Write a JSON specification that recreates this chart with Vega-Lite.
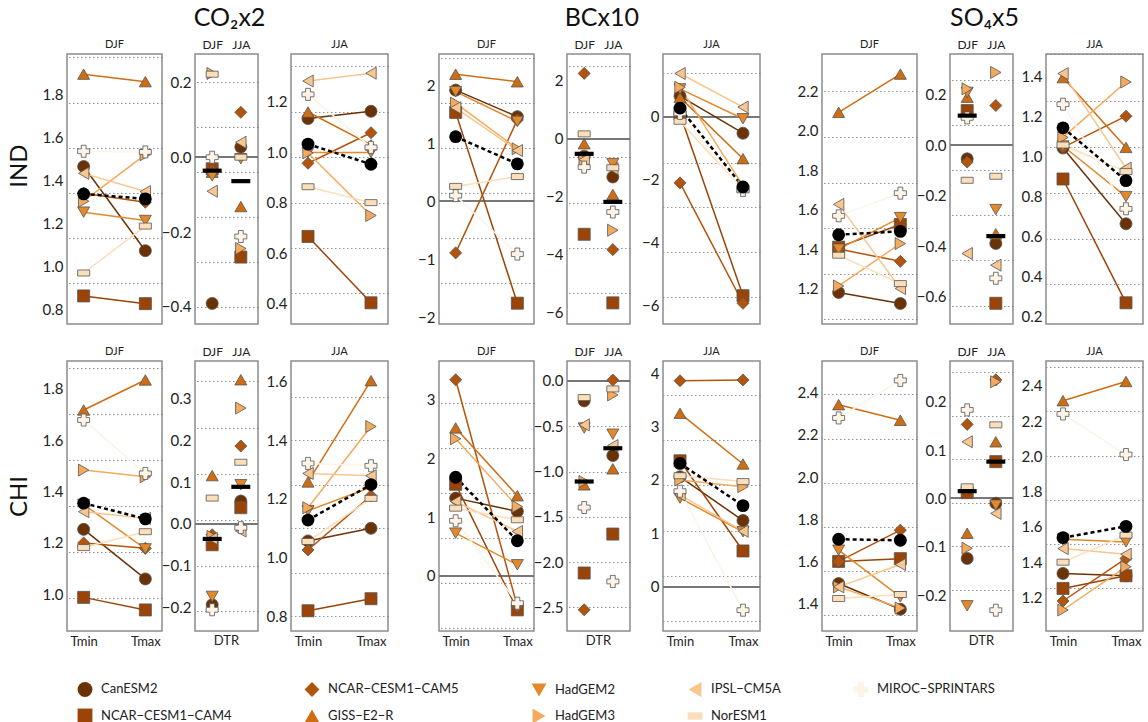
{
"$schema":"https://vega.github.io/schema/vega-lite/v6.json",
"padding":{"left":8,"top":6,"right":0,"bottom":0},
"data":{"values":[
{"e":"CO2","r":"IND","p":"DJF","m":"CanESM2","Tmin":1.465,"Tmax":1.072},
{"e":"CO2","r":"IND","p":"DJF","m":"NCAR−CESM1−CAM4","Tmin":0.861,"Tmax":0.825},
{"e":"CO2","r":"IND","p":"DJF","m":"NCAR−CESM1−CAM5","Tmin":1.34,"Tmax":1.298},
{"e":"CO2","r":"IND","p":"DJF","m":"GISS−E2−R","Tmin":1.896,"Tmax":1.861},
{"e":"CO2","r":"IND","p":"DJF","m":"HadGEM2","Tmin":1.252,"Tmax":1.213},
{"e":"CO2","r":"IND","p":"DJF","m":"HadGEM3","Tmin":1.303,"Tmax":1.52},
{"e":"CO2","r":"IND","p":"DJF","m":"IPSL−CM5A","Tmin":1.433,"Tmax":1.348},
{"e":"CO2","r":"IND","p":"DJF","m":"NorESM1","Tmin":0.968,"Tmax":1.187},
{"e":"CO2","r":"IND","p":"DJF","m":"MIROC−SPRINTARS","Tmin":1.536,"Tmax":1.533},
{"e":"CO2","r":"IND","p":"DJF","m":"Mean","Tmin":1.337,"Tmax":1.314},
{"e":"CO2","r":"IND","p":"DTR","m":"CanESM2","DJF":-0.391,"JJA":0.027},
{"e":"CO2","r":"IND","p":"DTR","m":"NCAR−CESM1−CAM4","DJF":-0.031,"JJA":-0.267},
{"e":"CO2","r":"IND","p":"DTR","m":"NCAR−CESM1−CAM5","DJF":-0.035,"JJA":0.12},
{"e":"CO2","r":"IND","p":"DTR","m":"GISS−E2−R","DJF":-0.04,"JJA":-0.132},
{"e":"CO2","r":"IND","p":"DTR","m":"HadGEM2","DJF":-0.05,"JJA":-0.004},
{"e":"CO2","r":"IND","p":"DTR","m":"HadGEM3","DJF":0.224,"JJA":-0.244},
{"e":"CO2","r":"IND","p":"DTR","m":"IPSL−CM5A","DJF":-0.091,"JJA":0.04},
{"e":"CO2","r":"IND","p":"DTR","m":"NorESM1","DJF":0.222,"JJA":0.0},
{"e":"CO2","r":"IND","p":"DTR","m":"MIROC−SPRINTARS","DJF":0.0,"JJA":-0.212},
{"e":"CO2","r":"IND","p":"DTR","m":"Mean","DJF":-0.036,"JJA":-0.064},
{"e":"CO2","r":"IND","p":"JJA","m":"CanESM2","Tmin":1.134,"Tmax":1.163},
{"e":"CO2","r":"IND","p":"JJA","m":"NCAR−CESM1−CAM4","Tmin":0.667,"Tmax":0.404},
{"e":"CO2","r":"IND","p":"JJA","m":"NCAR−CESM1−CAM5","Tmin":0.957,"Tmax":1.078},
{"e":"CO2","r":"IND","p":"JJA","m":"GISS−E2−R","Tmin":1.16,"Tmax":1.03},
{"e":"CO2","r":"IND","p":"JJA","m":"HadGEM2","Tmin":1.0,"Tmax":1.0},
{"e":"CO2","r":"IND","p":"JJA","m":"HadGEM3","Tmin":0.998,"Tmax":0.75},
{"e":"CO2","r":"IND","p":"JJA","m":"IPSL−CM5A","Tmin":1.283,"Tmax":1.314},
{"e":"CO2","r":"IND","p":"JJA","m":"NorESM1","Tmin":0.864,"Tmax":0.801},
{"e":"CO2","r":"IND","p":"JJA","m":"MIROC−SPRINTARS","Tmin":1.23,"Tmax":1.02},
{"e":"CO2","r":"IND","p":"JJA","m":"Mean","Tmin":1.033,"Tmax":0.953},
{"e":"BC","r":"IND","p":"DJF","m":"CanESM2","Tmin":1.925,"Tmax":1.466},
{"e":"BC","r":"IND","p":"DJF","m":"NCAR−CESM1−CAM4","Tmin":1.54,"Tmax":-1.76},
{"e":"BC","r":"IND","p":"DJF","m":"NCAR−CESM1−CAM5","Tmin":-0.89,"Tmax":1.41},
{"e":"BC","r":"IND","p":"DJF","m":"GISS−E2−R","Tmin":2.2,"Tmax":2.07},
{"e":"BC","r":"IND","p":"DJF","m":"HadGEM2","Tmin":1.9,"Tmax":1.385},
{"e":"BC","r":"IND","p":"DJF","m":"HadGEM3","Tmin":1.7,"Tmax":0.91},
{"e":"BC","r":"IND","p":"DJF","m":"IPSL−CM5A","Tmin":1.62,"Tmax":0.88},
{"e":"BC","r":"IND","p":"DJF","m":"NorESM1","Tmin":0.26,"Tmax":0.43},
{"e":"BC","r":"IND","p":"DJF","m":"MIROC−SPRINTARS","Tmin":0.1,"Tmax":-0.91},
{"e":"BC","r":"IND","p":"DJF","m":"Mean","Tmin":1.12,"Tmax":0.65},
{"e":"BC","r":"IND","p":"DTR","m":"CanESM2","DJF":-0.6,"JJA":-1.32},
{"e":"BC","r":"IND","p":"DTR","m":"NCAR−CESM1−CAM4","DJF":-3.3,"JJA":-5.67},
{"e":"BC","r":"IND","p":"DTR","m":"NCAR−CESM1−CAM5","DJF":2.26,"JJA":-3.83},
{"e":"BC","r":"IND","p":"DTR","m":"GISS−E2−R","DJF":-0.17,"JJA":-1.92},
{"e":"BC","r":"IND","p":"DTR","m":"HadGEM2","DJF":-0.7,"JJA":-0.86},
{"e":"BC","r":"IND","p":"DTR","m":"HadGEM3","DJF":-0.75,"JJA":-3.16},
{"e":"BC","r":"IND","p":"DTR","m":"IPSL−CM5A","DJF":-0.72,"JJA":-1.03},
{"e":"BC","r":"IND","p":"DTR","m":"NorESM1","DJF":0.17,"JJA":-1.0},
{"e":"BC","r":"IND","p":"DTR","m":"MIROC−SPRINTARS","DJF":-0.98,"JJA":-2.53},
{"e":"BC","r":"IND","p":"DTR","m":"Mean","DJF":-0.52,"JJA":-2.18},
{"e":"BC","r":"IND","p":"JJA","m":"CanESM2","Tmin":0.65,"Tmax":-0.53},
{"e":"BC","r":"IND","p":"JJA","m":"NCAR−CESM1−CAM4","Tmin":0.08,"Tmax":-5.7},
{"e":"BC","r":"IND","p":"JJA","m":"NCAR−CESM1−CAM5","Tmin":-2.11,"Tmax":-5.94},
{"e":"BC","r":"IND","p":"JJA","m":"GISS−E2−R","Tmin":0.61,"Tmax":-1.34},
{"e":"BC","r":"IND","p":"JJA","m":"HadGEM2","Tmin":0.88,"Tmax":-0.07},
{"e":"BC","r":"IND","p":"JJA","m":"HadGEM3","Tmin":0.93,"Tmax":-2.2},
{"e":"BC","r":"IND","p":"JJA","m":"IPSL−CM5A","Tmin":1.37,"Tmax":0.3},
{"e":"BC","r":"IND","p":"JJA","m":"NorESM1","Tmin":-0.15,"Tmax":-2.32},
{"e":"BC","r":"IND","p":"JJA","m":"MIROC−SPRINTARS","Tmin":0.1,"Tmax":-2.35},
{"e":"BC","r":"IND","p":"JJA","m":"Mean","Tmin":0.27,"Tmax":-2.24},
{"e":"SO4","r":"IND","p":"DJF","m":"CanESM2","Tmin":1.18,"Tmax":1.124},
{"e":"SO4","r":"IND","p":"DJF","m":"NCAR−CESM1−CAM4","Tmin":1.41,"Tmax":1.525},
{"e":"SO4","r":"IND","p":"DJF","m":"NCAR−CESM1−CAM5","Tmin":1.4,"Tmax":1.338},
{"e":"SO4","r":"IND","p":"DJF","m":"GISS−E2−R","Tmin":2.094,"Tmax":2.288},
{"e":"SO4","r":"IND","p":"DJF","m":"HadGEM2","Tmin":1.4,"Tmax":1.56},
{"e":"SO4","r":"IND","p":"DJF","m":"HadGEM3","Tmin":1.213,"Tmax":1.428},
{"e":"SO4","r":"IND","p":"DJF","m":"IPSL−CM5A","Tmin":1.627,"Tmax":1.2},
{"e":"SO4","r":"IND","p":"DJF","m":"NorESM1","Tmin":1.369,"Tmax":1.225},
{"e":"SO4","r":"IND","p":"DJF","m":"MIROC−SPRINTARS","Tmin":1.569,"Tmax":1.684},
{"e":"SO4","r":"IND","p":"DJF","m":"Mean","Tmin":1.473,"Tmax":1.49},
{"e":"SO4","r":"IND","p":"DTR","m":"CanESM2","DJF":-0.053,"JJA":-0.388},
{"e":"SO4","r":"IND","p":"DTR","m":"NCAR−CESM1−CAM4","DJF":0.138,"JJA":-0.625},
{"e":"SO4","r":"IND","p":"DTR","m":"NCAR−CESM1−CAM5","DJF":-0.066,"JJA":0.158},
{"e":"SO4","r":"IND","p":"DTR","m":"GISS−E2−R","DJF":0.191,"JJA":-0.35},
{"e":"SO4","r":"IND","p":"DTR","m":"HadGEM2","DJF":0.21,"JJA":-0.254},
{"e":"SO4","r":"IND","p":"DTR","m":"HadGEM3","DJF":0.224,"JJA":0.289},
{"e":"SO4","r":"IND","p":"DTR","m":"IPSL−CM5A","DJF":-0.428,"JJA":-0.474},
{"e":"SO4","r":"IND","p":"DTR","m":"NorESM1","DJF":-0.138,"JJA":-0.122},
{"e":"SO4","r":"IND","p":"DTR","m":"MIROC−SPRINTARS","DJF":0.109,"JJA":-0.526},
{"e":"SO4","r":"IND","p":"DTR","m":"Mean","DJF":0.118,"JJA":-0.359},
{"e":"SO4","r":"IND","p":"JJA","m":"CanESM2","Tmin":1.04,"Tmax":0.661},
{"e":"SO4","r":"IND","p":"JJA","m":"NCAR−CESM1−CAM4","Tmin":0.885,"Tmax":0.266},
{"e":"SO4","r":"IND","p":"JJA","m":"NCAR−CESM1−CAM5","Tmin":1.043,"Tmax":1.199},
{"e":"SO4","r":"IND","p":"JJA","m":"GISS−E2−R","Tmin":1.392,"Tmax":1.043},
{"e":"SO4","r":"IND","p":"JJA","m":"HadGEM2","Tmin":1.05,"Tmax":0.797},
{"e":"SO4","r":"IND","p":"JJA","m":"HadGEM3","Tmin":1.093,"Tmax":1.37},
{"e":"SO4","r":"IND","p":"JJA","m":"IPSL−CM5A","Tmin":1.412,"Tmax":0.939},
{"e":"SO4","r":"IND","p":"JJA","m":"NorESM1","Tmin":1.055,"Tmax":0.922},
{"e":"SO4","r":"IND","p":"JJA","m":"MIROC−SPRINTARS","Tmin":1.259,"Tmax":0.736},
{"e":"SO4","r":"IND","p":"JJA","m":"Mean","Tmin":1.141,"Tmax":0.877},
{"e":"CO2","r":"CHI","p":"DJF","m":"CanESM2","Tmin":1.253,"Tmax":1.06},
{"e":"CO2","r":"CHI","p":"DJF","m":"NCAR−CESM1−CAM4","Tmin":0.988,"Tmax":0.939},
{"e":"CO2","r":"CHI","p":"DJF","m":"NCAR−CESM1−CAM5","Tmin":1.2,"Tmax":1.179},
{"e":"CO2","r":"CHI","p":"DJF","m":"GISS−E2−R","Tmin":1.718,"Tmax":1.835},
{"e":"CO2","r":"CHI","p":"DJF","m":"HadGEM2","Tmin":1.35,"Tmax":1.177},
{"e":"CO2","r":"CHI","p":"DJF","m":"HadGEM3","Tmin":1.484,"Tmax":1.458},
{"e":"CO2","r":"CHI","p":"DJF","m":"IPSL−CM5A","Tmin":1.322,"Tmax":1.296},
{"e":"CO2","r":"CHI","p":"DJF","m":"NorESM1","Tmin":1.182,"Tmax":1.244},
{"e":"CO2","r":"CHI","p":"DJF","m":"MIROC−SPRINTARS","Tmin":1.679,"Tmax":1.471},
{"e":"CO2","r":"CHI","p":"DJF","m":"Mean","Tmin":1.355,"Tmax":1.294},
{"e":"CO2","r":"CHI","p":"DTR","m":"CanESM2","DJF":-0.194,"JJA":0.055},
{"e":"CO2","r":"CHI","p":"DTR","m":"NCAR−CESM1−CAM4","DJF":-0.05,"JJA":0.039},
{"e":"CO2","r":"CHI","p":"DTR","m":"NCAR−CESM1−CAM5","DJF":-0.026,"JJA":0.187},
{"e":"CO2","r":"CHI","p":"DTR","m":"GISS−E2−R","DJF":0.116,"JJA":0.346},
{"e":"CO2","r":"CHI","p":"DTR","m":"HadGEM2","DJF":-0.174,"JJA":0.094},
{"e":"CO2","r":"CHI","p":"DTR","m":"HadGEM3","DJF":-0.03,"JJA":0.278},
{"e":"CO2","r":"CHI","p":"DTR","m":"IPSL−CM5A","DJF":-0.035,"JJA":-0.017},
{"e":"CO2","r":"CHI","p":"DTR","m":"NorESM1","DJF":0.062,"JJA":0.148},
{"e":"CO2","r":"CHI","p":"DTR","m":"MIROC−SPRINTARS","DJF":-0.206,"JJA":-0.009},
{"e":"CO2","r":"CHI","p":"DTR","m":"Mean","DJF":-0.036,"JJA":0.089},
{"e":"CO2","r":"CHI","p":"JJA","m":"CanESM2","Tmin":1.057,"Tmax":1.1},
{"e":"CO2","r":"CHI","p":"JJA","m":"NCAR−CESM1−CAM4","Tmin":0.819,"Tmax":0.86},
{"e":"CO2","r":"CHI","p":"JJA","m":"NCAR−CESM1−CAM5","Tmin":1.026,"Tmax":1.211},
{"e":"CO2","r":"CHI","p":"JJA","m":"GISS−E2−R","Tmin":1.258,"Tmax":1.603},
{"e":"CO2","r":"CHI","p":"JJA","m":"HadGEM2","Tmin":1.16,"Tmax":1.24},
{"e":"CO2","r":"CHI","p":"JJA","m":"HadGEM3","Tmin":1.17,"Tmax":1.447},
{"e":"CO2","r":"CHI","p":"JJA","m":"IPSL−CM5A","Tmin":1.287,"Tmax":1.279},
{"e":"CO2","r":"CHI","p":"JJA","m":"NorESM1","Tmin":1.055,"Tmax":1.202},
{"e":"CO2","r":"CHI","p":"JJA","m":"MIROC−SPRINTARS","Tmin":1.321,"Tmax":1.313},
{"e":"CO2","r":"CHI","p":"JJA","m":"Mean","Tmin":1.128,"Tmax":1.249},
{"e":"BC","r":"CHI","p":"DJF","m":"CanESM2","Tmin":1.324,"Tmax":1.097},
{"e":"BC","r":"CHI","p":"DJF","m":"NCAR−CESM1−CAM4","Tmin":1.56,"Tmax":-0.58},
{"e":"BC","r":"CHI","p":"DJF","m":"NCAR−CESM1−CAM5","Tmin":3.34,"Tmax":-0.52},
{"e":"BC","r":"CHI","p":"DJF","m":"GISS−E2−R","Tmin":2.52,"Tmax":1.364},
{"e":"BC","r":"CHI","p":"DJF","m":"HadGEM2","Tmin":0.727,"Tmax":0.188},
{"e":"BC","r":"CHI","p":"DJF","m":"HadGEM3","Tmin":2.335,"Tmax":1.18},
{"e":"BC","r":"CHI","p":"DJF","m":"IPSL−CM5A","Tmin":1.267,"Tmax":0.756},
{"e":"BC","r":"CHI","p":"DJF","m":"NorESM1","Tmin":1.153,"Tmax":0.955},
{"e":"BC","r":"CHI","p":"DJF","m":"MIROC−SPRINTARS","Tmin":0.938,"Tmax":-0.466},
{"e":"BC","r":"CHI","p":"DJF","m":"Mean","Tmin":1.68,"Tmax":0.597},
{"e":"BC","r":"CHI","p":"DTR","m":"CanESM2","DJF":-0.22,"JJA":-0.824},
{"e":"BC","r":"CHI","p":"DTR","m":"NCAR−CESM1−CAM4","DJF":-2.12,"JJA":-1.69},
{"e":"BC","r":"CHI","p":"DTR","m":"NCAR−CESM1−CAM5","DJF":-2.526,"JJA":0.01},
{"e":"BC","r":"CHI","p":"DTR","m":"GISS−E2−R","DJF":-1.147,"JJA":-0.97},
{"e":"BC","r":"CHI","p":"DTR","m":"HadGEM2","DJF":-0.52,"JJA":-0.588},
{"e":"BC","r":"CHI","p":"DTR","m":"HadGEM3","DJF":-1.11,"JJA":-0.154},
{"e":"BC","r":"CHI","p":"DTR","m":"IPSL−CM5A","DJF":-0.485,"JJA":-0.713},
{"e":"BC","r":"CHI","p":"DTR","m":"NorESM1","DJF":-0.184,"JJA":-0.088},
{"e":"BC","r":"CHI","p":"DTR","m":"MIROC−SPRINTARS","DJF":-1.397,"JJA":-2.213},
{"e":"BC","r":"CHI","p":"DTR","m":"Mean","DJF":-1.11,"JJA":-0.743},
{"e":"BC","r":"CHI","p":"JJA","m":"CanESM2","Tmin":2.06,"Tmax":1.24},
{"e":"BC","r":"CHI","p":"JJA","m":"NCAR−CESM1−CAM4","Tmin":2.36,"Tmax":0.67},
{"e":"BC","r":"CHI","p":"JJA","m":"NCAR−CESM1−CAM5","Tmin":3.86,"Tmax":3.875},
{"e":"BC","r":"CHI","p":"JJA","m":"GISS−E2−R","Tmin":3.25,"Tmax":2.3},
{"e":"BC","r":"CHI","p":"JJA","m":"HadGEM2","Tmin":1.66,"Tmax":1.03},
{"e":"BC","r":"CHI","p":"JJA","m":"HadGEM3","Tmin":2.0,"Tmax":1.875},
{"e":"BC","r":"CHI","p":"JJA","m":"IPSL−CM5A","Tmin":1.72,"Tmax":1.04},
{"e":"BC","r":"CHI","p":"JJA","m":"NorESM1","Tmin":2.08,"Tmax":1.97},
{"e":"BC","r":"CHI","p":"JJA","m":"MIROC−SPRINTARS","Tmin":1.79,"Tmax":-0.44},
{"e":"BC","r":"CHI","p":"JJA","m":"Mean","Tmin":2.31,"Tmax":1.52},
{"e":"SO4","r":"CHI","p":"DJF","m":"CanESM2","Tmin":1.495,"Tmax":1.373},
{"e":"SO4","r":"CHI","p":"DJF","m":"NCAR−CESM1−CAM4","Tmin":1.6,"Tmax":1.613},
{"e":"SO4","r":"CHI","p":"DJF","m":"NCAR−CESM1−CAM5","Tmin":1.6,"Tmax":1.748},
{"e":"SO4","r":"CHI","p":"DJF","m":"GISS−E2−R","Tmin":2.343,"Tmax":2.269},
{"e":"SO4","r":"CHI","p":"DJF","m":"HadGEM2","Tmin":1.653,"Tmax":1.432},
{"e":"SO4","r":"CHI","p":"DJF","m":"HadGEM3","Tmin":1.479,"Tmax":1.379},
{"e":"SO4","r":"CHI","p":"DJF","m":"IPSL−CM5A","Tmin":1.479,"Tmax":1.585},
{"e":"SO4","r":"CHI","p":"DJF","m":"NorESM1","Tmin":1.424,"Tmax":1.443},
{"e":"SO4","r":"CHI","p":"DJF","m":"MIROC−SPRINTARS","Tmin":2.28,"Tmax":2.458},
{"e":"SO4","r":"CHI","p":"DJF","m":"Mean","Tmin":1.705,"Tmax":1.7},
{"e":"SO4","r":"CHI","p":"DTR","m":"CanESM2","DJF":-0.124,"JJA":-0.01},
{"e":"SO4","r":"CHI","p":"DTR","m":"NCAR−CESM1−CAM4","DJF":0.012,"JJA":0.076},
{"e":"SO4","r":"CHI","p":"DTR","m":"NCAR−CESM1−CAM5","DJF":0.153,"JJA":0.245},
{"e":"SO4","r":"CHI","p":"DTR","m":"GISS−E2−R","DJF":-0.072,"JJA":0.117},
{"e":"SO4","r":"CHI","p":"DTR","m":"HadGEM2","DJF":-0.222,"JJA":-0.014},
{"e":"SO4","r":"CHI","p":"DTR","m":"HadGEM3","DJF":-0.103,"JJA":0.241},
{"e":"SO4","r":"CHI","p":"DTR","m":"IPSL−CM5A","DJF":0.117,"JJA":-0.031},
{"e":"SO4","r":"CHI","p":"DTR","m":"NorESM1","DJF":0.024,"JJA":0.152},
{"e":"SO4","r":"CHI","p":"DTR","m":"MIROC−SPRINTARS","DJF":0.183,"JJA":-0.231},
{"e":"SO4","r":"CHI","p":"DTR","m":"Mean","DJF":0.015,"JJA":0.076},
{"e":"SO4","r":"CHI","p":"JJA","m":"CanESM2","Tmin":1.336,"Tmax":1.323},
{"e":"SO4","r":"CHI","p":"JJA","m":"NCAR−CESM1−CAM4","Tmin":1.251,"Tmax":1.323},
{"e":"SO4","r":"CHI","p":"JJA","m":"NCAR−CESM1−CAM5","Tmin":1.18,"Tmax":1.421},
{"e":"SO4","r":"CHI","p":"JJA","m":"GISS−E2−R","Tmin":2.315,"Tmax":2.424},
{"e":"SO4","r":"CHI","p":"JJA","m":"HadGEM2","Tmin":1.53,"Tmax":1.515},
{"e":"SO4","r":"CHI","p":"JJA","m":"HadGEM3","Tmin":1.129,"Tmax":1.374},
{"e":"SO4","r":"CHI","p":"JJA","m":"IPSL−CM5A","Tmin":1.477,"Tmax":1.445},
{"e":"SO4","r":"CHI","p":"JJA","m":"NorESM1","Tmin":1.4,"Tmax":1.553},
{"e":"SO4","r":"CHI","p":"JJA","m":"MIROC−SPRINTARS","Tmin":2.24,"Tmax":2.01},
{"e":"SO4","r":"CHI","p":"JJA","m":"Mean","Tmin":1.539,"Tmax":1.603}
]},
"spacing":18,
"vconcat":[
{"title":{"text":"IND","orient":"left","fontSize":24,"offset":4,"anchor":"middle","color":"#111"},"spacing":19,"hconcat":[
{"title":{"text":"CO₂x2","fontSize":25,"offset":6,"dx":17,"anchor":"middle","color":"#111"},"bounds":"flush","spacing":33,"hconcat":[
{"width":95,"height":270,"title":{"text":"DJF"},"transform":[{"filter":"datum.e=='CO2'&&datum.r=='IND'&&datum.p=='DJF'"},{"fold":["Tmin","Tmax"],"as":["k","v"]}],"resolve":{"axis":{"y":"independent"}},"layer":[
{"transform":[{"filter":"datum.m!='Mean'"}],"mark":{"type":"line","strokeWidth":1.5},"encoding":{"x":{"field":"k","type":"nominal","title":null,"scale":{"type":"point","domain":["Tmin","Tmax"],"padding":0.27},"axis":null},"y":{"field":"v","type":"quantitative","title":null,"scale":{"domain":[0.73,1.99],"nice":false,"zero":false},"axis":{"values":[0.8,1,1.2,1.4,1.6,1.8],"format":".1f","minExtent":30,"maxExtent":30}},"stroke":{"field":"m","type":"nominal","title":null,"legend":null,"scale":{"domain":["CanESM2","NCAR−CESM1−CAM4","NCAR−CESM1−CAM5","GISS−E2−R","HadGEM2","HadGEM3","IPSL−CM5A","NorESM1","MIROC−SPRINTARS","Mean"]}}}},
{"transform":[{"filter":"datum.m=='Mean'"}],"mark":{"type":"line","color":"#000","strokeWidth":2.5,"strokeDash":[4,3]},"encoding":{"x":{"field":"k","type":"nominal","title":null,"scale":{"type":"point","domain":["Tmin","Tmax"],"padding":0.27},"axis":null},"y":{"field":"v","type":"quantitative","title":null,"scale":{"domain":[0.73,1.99],"nice":false,"zero":false},"axis":{"orient":"right","grid":true,"values":[1.974,1.763,1.552,1.342,1.132,0.921]}}}},
{"transform":[{"filter":"datum.m!='Mean'"}],"mark":{"type":"point","filled":true,"size":145,"stroke":"#555","strokeWidth":0.8,"opacity":1},"encoding":{"x":{"field":"k","type":"nominal","title":null,"scale":{"type":"point","domain":["Tmin","Tmax"],"padding":0.27},"axis":null},"y":{"field":"v","type":"quantitative","title":null,"scale":{"domain":[0.73,1.99],"nice":false,"zero":false},"axis":null},"color":{"field":"m","type":"nominal","title":null,"legend":{"orient":"none","legendX":10,"legendY":627,"columns":5,"direction":"vertical"},"scale":{"domain":["CanESM2","NCAR−CESM1−CAM4","NCAR−CESM1−CAM5","GISS−E2−R","HadGEM2","HadGEM3","IPSL−CM5A","NorESM1","MIROC−SPRINTARS"]}},"shape":{"field":"m","type":"nominal","title":null,"legend":{"orient":"none","legendX":10,"legendY":627,"columns":5,"direction":"vertical"},"scale":{"domain":["CanESM2","NCAR−CESM1−CAM4","NCAR−CESM1−CAM5","GISS−E2−R","HadGEM2","HadGEM3","IPSL−CM5A","NorESM1","MIROC−SPRINTARS"]}}}},
{"transform":[{"filter":"datum.m=='Mean'"}],"mark":{"type":"circle","color":"#000","size":165,"opacity":1},"encoding":{"x":{"field":"k","type":"nominal","title":null,"scale":{"type":"point","domain":["Tmin","Tmax"],"padding":0.27},"axis":null},"y":{"field":"v","type":"quantitative","title":null,"scale":{"domain":[0.73,1.99],"nice":false,"zero":false},"axis":null}}}
]},
{"width":63,"height":270,"transform":[{"filter":"datum.e=='CO2'&&datum.r=='IND'&&datum.p=='DTR'"},{"fold":["DJF","JJA"],"as":["k","v"]}],"resolve":{"axis":{"y":"independent"}},"layer":[
{"mark":{"type":"rule","color":"#777","strokeWidth":1.2},"encoding":{"y":{"datum":0,"type":"quantitative","title":null,"scale":{"domain":[-0.446,0.276],"nice":false,"zero":false},"axis":{"values":[-0.4,-0.2,0,0.2],"format":".1f"}}}},
{"transform":[{"filter":"datum.m!='Mean'"}],"mark":{"type":"point","filled":true,"size":145,"stroke":"#555","strokeWidth":0.8,"opacity":1},"encoding":{"x":{"field":"k","type":"nominal","title":null,"scale":{"type":"point","domain":["DJF","JJA"],"padding":0.6},"axis":{"orient":"top"}},"y":{"field":"v","type":"quantitative","title":null,"scale":{"domain":[-0.446,0.276],"nice":false,"zero":false},"axis":{"orient":"right","grid":true,"values":[0.2,0.08,-0.04,-0.16,-0.28,-0.4]}},"color":{"field":"m","type":"nominal","title":null,"legend":{"orient":"none","legendX":10,"legendY":627,"columns":5,"direction":"vertical"},"scale":{"domain":["CanESM2","NCAR−CESM1−CAM4","NCAR−CESM1−CAM5","GISS−E2−R","HadGEM2","HadGEM3","IPSL−CM5A","NorESM1","MIROC−SPRINTARS"]}},"shape":{"field":"m","type":"nominal","title":null,"legend":{"orient":"none","legendX":10,"legendY":627,"columns":5,"direction":"vertical"},"scale":{"domain":["CanESM2","NCAR−CESM1−CAM4","NCAR−CESM1−CAM5","GISS−E2−R","HadGEM2","HadGEM3","IPSL−CM5A","NorESM1","MIROC−SPRINTARS"]}}}},
{"transform":[{"filter":"datum.m=='Mean'"}],"mark":{"type":"point","shape":"M-1,-0.22L1,-0.22L1,0.22L-1,0.22Z","filled":true,"color":"#000","size":360,"opacity":1},"encoding":{"x":{"field":"k","type":"nominal","title":null,"scale":{"type":"point","domain":["DJF","JJA"],"padding":0.6},"axis":{"orient":"top"}},"y":{"field":"v","type":"quantitative","title":null,"scale":{"domain":[-0.446,0.276],"nice":false,"zero":false},"axis":null}}}
]},
{"width":97,"height":270,"title":{"text":"JJA"},"transform":[{"filter":"datum.e=='CO2'&&datum.r=='IND'&&datum.p=='JJA'"},{"fold":["Tmin","Tmax"],"as":["k","v"]}],"resolve":{"axis":{"y":"independent"}},"layer":[
{"transform":[{"filter":"datum.m!='Mean'"}],"mark":{"type":"line","strokeWidth":1.5},"encoding":{"x":{"field":"k","type":"nominal","title":null,"scale":{"type":"point","domain":["Tmin","Tmax"],"padding":0.27},"axis":null},"y":{"field":"v","type":"quantitative","title":null,"scale":{"domain":[0.32,1.39],"nice":false,"zero":false},"axis":{"values":[0.4,0.6,0.8,1,1.2],"format":".1f"}},"stroke":{"field":"m","type":"nominal","title":null,"legend":null,"scale":{"domain":["CanESM2","NCAR−CESM1−CAM4","NCAR−CESM1−CAM5","GISS−E2−R","HadGEM2","HadGEM3","IPSL−CM5A","NorESM1","MIROC−SPRINTARS","Mean"]}}}},
{"transform":[{"filter":"datum.m=='Mean'"}],"mark":{"type":"line","color":"#000","strokeWidth":2.5,"strokeDash":[4,3]},"encoding":{"x":{"field":"k","type":"nominal","title":null,"scale":{"type":"point","domain":["Tmin","Tmax"],"padding":0.27},"axis":null},"y":{"field":"v","type":"quantitative","title":null,"scale":{"domain":[0.32,1.39],"nice":false,"zero":false},"axis":{"orient":"right","grid":true,"values":[1.341,1.161,0.98,0.8,0.621,0.441]}}}},
{"transform":[{"filter":"datum.m!='Mean'"}],"mark":{"type":"point","filled":true,"size":145,"stroke":"#555","strokeWidth":0.8,"opacity":1},"encoding":{"x":{"field":"k","type":"nominal","title":null,"scale":{"type":"point","domain":["Tmin","Tmax"],"padding":0.27},"axis":null},"y":{"field":"v","type":"quantitative","title":null,"scale":{"domain":[0.32,1.39],"nice":false,"zero":false},"axis":null},"color":{"field":"m","type":"nominal","title":null,"legend":{"orient":"none","legendX":10,"legendY":627,"columns":5,"direction":"vertical"},"scale":{"domain":["CanESM2","NCAR−CESM1−CAM4","NCAR−CESM1−CAM5","GISS−E2−R","HadGEM2","HadGEM3","IPSL−CM5A","NorESM1","MIROC−SPRINTARS"]}},"shape":{"field":"m","type":"nominal","title":null,"legend":{"orient":"none","legendX":10,"legendY":627,"columns":5,"direction":"vertical"},"scale":{"domain":["CanESM2","NCAR−CESM1−CAM4","NCAR−CESM1−CAM5","GISS−E2−R","HadGEM2","HadGEM3","IPSL−CM5A","NorESM1","MIROC−SPRINTARS"]}}}},
{"transform":[{"filter":"datum.m=='Mean'"}],"mark":{"type":"circle","color":"#000","size":165,"opacity":1},"encoding":{"x":{"field":"k","type":"nominal","title":null,"scale":{"type":"point","domain":["Tmin","Tmax"],"padding":0.27},"axis":null},"y":{"field":"v","type":"quantitative","title":null,"scale":{"domain":[0.32,1.39],"nice":false,"zero":false},"axis":null}}}
]}
]},
{"title":{"text":"BCx10","fontSize":25,"offset":6,"dx":17,"anchor":"middle","color":"#111"},"bounds":"flush","spacing":33,"hconcat":[
{"width":95,"height":270,"title":{"text":"DJF"},"transform":[{"filter":"datum.e=='BC'&&datum.r=='IND'&&datum.p=='DJF'"},{"fold":["Tmin","Tmax"],"as":["k","v"]}],"resolve":{"axis":{"y":"independent"}},"layer":[
{"mark":{"type":"rule","color":"#777","strokeWidth":1.2},"encoding":{"y":{"datum":0,"type":"quantitative","title":null,"scale":{"domain":[-2.12,2.55],"nice":false,"zero":false},"axis":null}}},
{"transform":[{"filter":"datum.m!='Mean'"}],"mark":{"type":"line","strokeWidth":1.5},"encoding":{"x":{"field":"k","type":"nominal","title":null,"scale":{"type":"point","domain":["Tmin","Tmax"],"padding":0.27},"axis":null},"y":{"field":"v","type":"quantitative","title":null,"scale":{"domain":[-2.12,2.55],"nice":false,"zero":false},"axis":{"values":[-2,-1,0,1,2],"format":"d","minExtent":30,"maxExtent":30}},"stroke":{"field":"m","type":"nominal","title":null,"legend":null,"scale":{"domain":["CanESM2","NCAR−CESM1−CAM4","NCAR−CESM1−CAM5","GISS−E2−R","HadGEM2","HadGEM3","IPSL−CM5A","NorESM1","MIROC−SPRINTARS","Mean"]}}}},
{"transform":[{"filter":"datum.m=='Mean'"}],"mark":{"type":"line","color":"#000","strokeWidth":2.5,"strokeDash":[4,3]},"encoding":{"x":{"field":"k","type":"nominal","title":null,"scale":{"type":"point","domain":["Tmin","Tmax"],"padding":0.27},"axis":null},"y":{"field":"v","type":"quantitative","title":null,"scale":{"domain":[-2.12,2.55],"nice":false,"zero":false},"axis":{"orient":"right","grid":true,"values":[2.488,1.707,0.925,0.149,-0.626,-1.408]}}}},
{"transform":[{"filter":"datum.m!='Mean'"}],"mark":{"type":"point","filled":true,"size":145,"stroke":"#555","strokeWidth":0.8,"opacity":1},"encoding":{"x":{"field":"k","type":"nominal","title":null,"scale":{"type":"point","domain":["Tmin","Tmax"],"padding":0.27},"axis":null},"y":{"field":"v","type":"quantitative","title":null,"scale":{"domain":[-2.12,2.55],"nice":false,"zero":false},"axis":null},"color":{"field":"m","type":"nominal","title":null,"legend":{"orient":"none","legendX":10,"legendY":627,"columns":5,"direction":"vertical"},"scale":{"domain":["CanESM2","NCAR−CESM1−CAM4","NCAR−CESM1−CAM5","GISS−E2−R","HadGEM2","HadGEM3","IPSL−CM5A","NorESM1","MIROC−SPRINTARS"]}},"shape":{"field":"m","type":"nominal","title":null,"legend":{"orient":"none","legendX":10,"legendY":627,"columns":5,"direction":"vertical"},"scale":{"domain":["CanESM2","NCAR−CESM1−CAM4","NCAR−CESM1−CAM5","GISS−E2−R","HadGEM2","HadGEM3","IPSL−CM5A","NorESM1","MIROC−SPRINTARS"]}}}},
{"transform":[{"filter":"datum.m=='Mean'"}],"mark":{"type":"circle","color":"#000","size":165,"opacity":1},"encoding":{"x":{"field":"k","type":"nominal","title":null,"scale":{"type":"point","domain":["Tmin","Tmax"],"padding":0.27},"axis":null},"y":{"field":"v","type":"quantitative","title":null,"scale":{"domain":[-2.12,2.55],"nice":false,"zero":false},"axis":null}}}
]},
{"width":63,"height":270,"transform":[{"filter":"datum.e=='BC'&&datum.r=='IND'&&datum.p=='DTR'"},{"fold":["DJF","JJA"],"as":["k","v"]}],"resolve":{"axis":{"y":"independent"}},"layer":[
{"mark":{"type":"rule","color":"#777","strokeWidth":1.2},"encoding":{"y":{"datum":0,"type":"quantitative","title":null,"scale":{"domain":[-6.4,2.93],"nice":false,"zero":false},"axis":{"values":[-6,-4,-2,0,2],"format":"d"}}}},
{"transform":[{"filter":"datum.m!='Mean'"}],"mark":{"type":"point","filled":true,"size":145,"stroke":"#555","strokeWidth":0.8,"opacity":1},"encoding":{"x":{"field":"k","type":"nominal","title":null,"scale":{"type":"point","domain":["DJF","JJA"],"padding":0.6},"axis":{"orient":"top"}},"y":{"field":"v","type":"quantitative","title":null,"scale":{"domain":[-6.4,2.93],"nice":false,"zero":false},"axis":{"orient":"right","grid":true,"values":[2.5,0.92,-0.63,-2.21,-3.76,-5.32]}},"color":{"field":"m","type":"nominal","title":null,"legend":{"orient":"none","legendX":10,"legendY":627,"columns":5,"direction":"vertical"},"scale":{"domain":["CanESM2","NCAR−CESM1−CAM4","NCAR−CESM1−CAM5","GISS−E2−R","HadGEM2","HadGEM3","IPSL−CM5A","NorESM1","MIROC−SPRINTARS"]}},"shape":{"field":"m","type":"nominal","title":null,"legend":{"orient":"none","legendX":10,"legendY":627,"columns":5,"direction":"vertical"},"scale":{"domain":["CanESM2","NCAR−CESM1−CAM4","NCAR−CESM1−CAM5","GISS−E2−R","HadGEM2","HadGEM3","IPSL−CM5A","NorESM1","MIROC−SPRINTARS"]}}}},
{"transform":[{"filter":"datum.m=='Mean'"}],"mark":{"type":"point","shape":"M-1,-0.22L1,-0.22L1,0.22L-1,0.22Z","filled":true,"color":"#000","size":360,"opacity":1},"encoding":{"x":{"field":"k","type":"nominal","title":null,"scale":{"type":"point","domain":["DJF","JJA"],"padding":0.6},"axis":{"orient":"top"}},"y":{"field":"v","type":"quantitative","title":null,"scale":{"domain":[-6.4,2.93],"nice":false,"zero":false},"axis":null}}}
]},
{"width":97,"height":270,"title":{"text":"JJA"},"transform":[{"filter":"datum.e=='BC'&&datum.r=='IND'&&datum.p=='JJA'"},{"fold":["Tmin","Tmax"],"as":["k","v"]}],"resolve":{"axis":{"y":"independent"}},"layer":[
{"mark":{"type":"rule","color":"#777","strokeWidth":1.2},"encoding":{"y":{"datum":0,"type":"quantitative","title":null,"scale":{"domain":[-6.6,1.99],"nice":false,"zero":false},"axis":null}}},
{"transform":[{"filter":"datum.m!='Mean'"}],"mark":{"type":"line","strokeWidth":1.5},"encoding":{"x":{"field":"k","type":"nominal","title":null,"scale":{"type":"point","domain":["Tmin","Tmax"],"padding":0.27},"axis":null},"y":{"field":"v","type":"quantitative","title":null,"scale":{"domain":[-6.6,1.99],"nice":false,"zero":false},"axis":{"values":[-6,-4,-2,0],"format":"d"}},"stroke":{"field":"m","type":"nominal","title":null,"legend":null,"scale":{"domain":["CanESM2","NCAR−CESM1−CAM4","NCAR−CESM1−CAM5","GISS−E2−R","HadGEM2","HadGEM3","IPSL−CM5A","NorESM1","MIROC−SPRINTARS","Mean"]}}}},
{"transform":[{"filter":"datum.m=='Mean'"}],"mark":{"type":"line","color":"#000","strokeWidth":2.5,"strokeDash":[4,3]},"encoding":{"x":{"field":"k","type":"nominal","title":null,"scale":{"type":"point","domain":["Tmin","Tmax"],"padding":0.27},"axis":null},"y":{"field":"v","type":"quantitative","title":null,"scale":{"domain":[-6.6,1.99],"nice":false,"zero":false},"axis":{"orient":"right","grid":true,"values":[1.38,-1.47,-2.89,-4.32,-5.75]}}}},
{"transform":[{"filter":"datum.m!='Mean'"}],"mark":{"type":"point","filled":true,"size":145,"stroke":"#555","strokeWidth":0.8,"opacity":1},"encoding":{"x":{"field":"k","type":"nominal","title":null,"scale":{"type":"point","domain":["Tmin","Tmax"],"padding":0.27},"axis":null},"y":{"field":"v","type":"quantitative","title":null,"scale":{"domain":[-6.6,1.99],"nice":false,"zero":false},"axis":null},"color":{"field":"m","type":"nominal","title":null,"legend":{"orient":"none","legendX":10,"legendY":627,"columns":5,"direction":"vertical"},"scale":{"domain":["CanESM2","NCAR−CESM1−CAM4","NCAR−CESM1−CAM5","GISS−E2−R","HadGEM2","HadGEM3","IPSL−CM5A","NorESM1","MIROC−SPRINTARS"]}},"shape":{"field":"m","type":"nominal","title":null,"legend":{"orient":"none","legendX":10,"legendY":627,"columns":5,"direction":"vertical"},"scale":{"domain":["CanESM2","NCAR−CESM1−CAM4","NCAR−CESM1−CAM5","GISS−E2−R","HadGEM2","HadGEM3","IPSL−CM5A","NorESM1","MIROC−SPRINTARS"]}}}},
{"transform":[{"filter":"datum.m=='Mean'"}],"mark":{"type":"circle","color":"#000","size":165,"opacity":1},"encoding":{"x":{"field":"k","type":"nominal","title":null,"scale":{"type":"point","domain":["Tmin","Tmax"],"padding":0.27},"axis":null},"y":{"field":"v","type":"quantitative","title":null,"scale":{"domain":[-6.6,1.99],"nice":false,"zero":false},"axis":null}}}
]}
]},
{"title":{"text":"SO₄x5","fontSize":25,"offset":6,"dx":22,"anchor":"middle","color":"#111"},"bounds":"flush","spacing":33,"hconcat":[
{"width":95,"height":270,"title":{"text":"DJF"},"transform":[{"filter":"datum.e=='SO4'&&datum.r=='IND'&&datum.p=='DJF'"},{"fold":["Tmin","Tmax"],"as":["k","v"]}],"resolve":{"axis":{"y":"independent"}},"layer":[
{"transform":[{"filter":"datum.m!='Mean'"}],"mark":{"type":"line","strokeWidth":1.5},"encoding":{"x":{"field":"k","type":"nominal","title":null,"scale":{"type":"point","domain":["Tmin","Tmax"],"padding":0.27},"axis":null},"y":{"field":"v","type":"quantitative","title":null,"scale":{"domain":[1.02,2.39],"nice":false,"zero":false},"axis":{"values":[1.2,1.4,1.6,1.8,2,2.2],"format":".1f","minExtent":40,"maxExtent":40}},"stroke":{"field":"m","type":"nominal","title":null,"legend":null,"scale":{"domain":["CanESM2","NCAR−CESM1−CAM4","NCAR−CESM1−CAM5","GISS−E2−R","HadGEM2","HadGEM3","IPSL−CM5A","NorESM1","MIROC−SPRINTARS","Mean"]}}}},
{"transform":[{"filter":"datum.m=='Mean'"}],"mark":{"type":"line","color":"#000","strokeWidth":2.5,"strokeDash":[4,3]},"encoding":{"x":{"field":"k","type":"nominal","title":null,"scale":{"type":"point","domain":["Tmin","Tmax"],"padding":0.27},"axis":null},"y":{"field":"v","type":"quantitative","title":null,"scale":{"domain":[1.02,2.39],"nice":false,"zero":false},"axis":{"orient":"right","grid":true,"values":[2.2,1.967,1.736,1.507,1.272,1.045]}}}},
{"transform":[{"filter":"datum.m!='Mean'"}],"mark":{"type":"point","filled":true,"size":145,"stroke":"#555","strokeWidth":0.8,"opacity":1},"encoding":{"x":{"field":"k","type":"nominal","title":null,"scale":{"type":"point","domain":["Tmin","Tmax"],"padding":0.27},"axis":null},"y":{"field":"v","type":"quantitative","title":null,"scale":{"domain":[1.02,2.39],"nice":false,"zero":false},"axis":null},"color":{"field":"m","type":"nominal","title":null,"legend":{"orient":"none","legendX":10,"legendY":627,"columns":5,"direction":"vertical"},"scale":{"domain":["CanESM2","NCAR−CESM1−CAM4","NCAR−CESM1−CAM5","GISS−E2−R","HadGEM2","HadGEM3","IPSL−CM5A","NorESM1","MIROC−SPRINTARS"]}},"shape":{"field":"m","type":"nominal","title":null,"legend":{"orient":"none","legendX":10,"legendY":627,"columns":5,"direction":"vertical"},"scale":{"domain":["CanESM2","NCAR−CESM1−CAM4","NCAR−CESM1−CAM5","GISS−E2−R","HadGEM2","HadGEM3","IPSL−CM5A","NorESM1","MIROC−SPRINTARS"]}}}},
{"transform":[{"filter":"datum.m=='Mean'"}],"mark":{"type":"circle","color":"#000","size":165,"opacity":1},"encoding":{"x":{"field":"k","type":"nominal","title":null,"scale":{"type":"point","domain":["Tmin","Tmax"],"padding":0.27},"axis":null},"y":{"field":"v","type":"quantitative","title":null,"scale":{"domain":[1.02,2.39],"nice":false,"zero":false},"axis":null}}}
]},
{"width":63,"height":270,"transform":[{"filter":"datum.e=='SO4'&&datum.r=='IND'&&datum.p=='DTR'"},{"fold":["DJF","JJA"],"as":["k","v"]}],"resolve":{"axis":{"y":"independent"}},"layer":[
{"mark":{"type":"rule","color":"#777","strokeWidth":1.2},"encoding":{"y":{"datum":0,"type":"quantitative","title":null,"scale":{"domain":[-0.707,0.362],"nice":false,"zero":false},"axis":{"values":[-0.6,-0.4,-0.2,0,0.2],"format":".1f"}}}},
{"transform":[{"filter":"datum.m!='Mean'"}],"mark":{"type":"point","filled":true,"size":145,"stroke":"#555","strokeWidth":0.8,"opacity":1},"encoding":{"x":{"field":"k","type":"nominal","title":null,"scale":{"type":"point","domain":["DJF","JJA"],"padding":0.6},"axis":{"orient":"top"}},"y":{"field":"v","type":"quantitative","title":null,"scale":{"domain":[-0.707,0.362],"nice":false,"zero":false},"axis":{"orient":"right","grid":true,"values":[0.261,0.082,-0.099,-0.276,-0.455,-0.634]}},"color":{"field":"m","type":"nominal","title":null,"legend":{"orient":"none","legendX":10,"legendY":627,"columns":5,"direction":"vertical"},"scale":{"domain":["CanESM2","NCAR−CESM1−CAM4","NCAR−CESM1−CAM5","GISS−E2−R","HadGEM2","HadGEM3","IPSL−CM5A","NorESM1","MIROC−SPRINTARS"]}},"shape":{"field":"m","type":"nominal","title":null,"legend":{"orient":"none","legendX":10,"legendY":627,"columns":5,"direction":"vertical"},"scale":{"domain":["CanESM2","NCAR−CESM1−CAM4","NCAR−CESM1−CAM5","GISS−E2−R","HadGEM2","HadGEM3","IPSL−CM5A","NorESM1","MIROC−SPRINTARS"]}}}},
{"transform":[{"filter":"datum.m=='Mean'"}],"mark":{"type":"point","shape":"M-1,-0.22L1,-0.22L1,0.22L-1,0.22Z","filled":true,"color":"#000","size":360,"opacity":1},"encoding":{"x":{"field":"k","type":"nominal","title":null,"scale":{"type":"point","domain":["DJF","JJA"],"padding":0.6},"axis":{"orient":"top"}},"y":{"field":"v","type":"quantitative","title":null,"scale":{"domain":[-0.707,0.362],"nice":false,"zero":false},"axis":null}}}
]},
{"width":97,"height":270,"title":{"text":"JJA"},"transform":[{"filter":"datum.e=='SO4'&&datum.r=='IND'&&datum.p=='JJA'"},{"fold":["Tmin","Tmax"],"as":["k","v"]}],"resolve":{"axis":{"y":"independent"}},"layer":[
{"transform":[{"filter":"datum.m!='Mean'"}],"mark":{"type":"line","strokeWidth":1.5},"encoding":{"x":{"field":"k","type":"nominal","title":null,"scale":{"type":"point","domain":["Tmin","Tmax"],"padding":0.27},"axis":null},"y":{"field":"v","type":"quantitative","title":null,"scale":{"domain":[0.16,1.51],"nice":false,"zero":false},"axis":{"values":[0.2,0.4,0.6,0.8,1,1.2,1.4],"format":".1f"}},"stroke":{"field":"m","type":"nominal","title":null,"legend":null,"scale":{"domain":["CanESM2","NCAR−CESM1−CAM4","NCAR−CESM1−CAM5","GISS−E2−R","HadGEM2","HadGEM3","IPSL−CM5A","NorESM1","MIROC−SPRINTARS","Mean"]}}}},
{"transform":[{"filter":"datum.m=='Mean'"}],"mark":{"type":"line","color":"#000","strokeWidth":2.5,"strokeDash":[4,3]},"encoding":{"x":{"field":"k","type":"nominal","title":null,"scale":{"type":"point","domain":["Tmin","Tmax"],"padding":0.27},"axis":null},"y":{"field":"v","type":"quantitative","title":null,"scale":{"domain":[0.16,1.51],"nice":false,"zero":false},"axis":{"orient":"right","grid":true,"values":[1.508,1.276,1.043,0.814,0.585,0.358]}}}},
{"transform":[{"filter":"datum.m!='Mean'"}],"mark":{"type":"point","filled":true,"size":145,"stroke":"#555","strokeWidth":0.8,"opacity":1},"encoding":{"x":{"field":"k","type":"nominal","title":null,"scale":{"type":"point","domain":["Tmin","Tmax"],"padding":0.27},"axis":null},"y":{"field":"v","type":"quantitative","title":null,"scale":{"domain":[0.16,1.51],"nice":false,"zero":false},"axis":null},"color":{"field":"m","type":"nominal","title":null,"legend":{"orient":"none","legendX":10,"legendY":627,"columns":5,"direction":"vertical"},"scale":{"domain":["CanESM2","NCAR−CESM1−CAM4","NCAR−CESM1−CAM5","GISS−E2−R","HadGEM2","HadGEM3","IPSL−CM5A","NorESM1","MIROC−SPRINTARS"]}},"shape":{"field":"m","type":"nominal","title":null,"legend":{"orient":"none","legendX":10,"legendY":627,"columns":5,"direction":"vertical"},"scale":{"domain":["CanESM2","NCAR−CESM1−CAM4","NCAR−CESM1−CAM5","GISS−E2−R","HadGEM2","HadGEM3","IPSL−CM5A","NorESM1","MIROC−SPRINTARS"]}}}},
{"transform":[{"filter":"datum.m=='Mean'"}],"mark":{"type":"circle","color":"#000","size":165,"opacity":1},"encoding":{"x":{"field":"k","type":"nominal","title":null,"scale":{"type":"point","domain":["Tmin","Tmax"],"padding":0.27},"axis":null},"y":{"field":"v","type":"quantitative","title":null,"scale":{"domain":[0.16,1.51],"nice":false,"zero":false},"axis":null}}}
]}
]}
]},
{"title":{"text":"CHI","orient":"left","fontSize":24,"offset":4,"anchor":"middle","color":"#111"},"spacing":19,"hconcat":[
{"bounds":"flush","spacing":33,"hconcat":[
{"width":95,"height":270,"title":{"text":"DJF"},"transform":[{"filter":"datum.e=='CO2'&&datum.r=='CHI'&&datum.p=='DJF'"},{"fold":["Tmin","Tmax"],"as":["k","v"]}],"resolve":{"axis":{"y":"independent"}},"layer":[
{"transform":[{"filter":"datum.m!='Mean'"}],"mark":{"type":"line","strokeWidth":1.5},"encoding":{"x":{"field":"k","type":"nominal","title":null,"scale":{"type":"point","domain":["Tmin","Tmax"],"padding":0.27},"axis":{"orient":"bottom"}},"y":{"field":"v","type":"quantitative","title":null,"scale":{"domain":[0.857,1.909],"nice":false,"zero":false},"axis":{"values":[1,1.2,1.4,1.6,1.8],"format":".1f","minExtent":30,"maxExtent":30}},"stroke":{"field":"m","type":"nominal","title":null,"legend":null,"scale":{"domain":["CanESM2","NCAR−CESM1−CAM4","NCAR−CESM1−CAM5","GISS−E2−R","HadGEM2","HadGEM3","IPSL−CM5A","NorESM1","MIROC−SPRINTARS","Mean"]}}}},
{"transform":[{"filter":"datum.m=='Mean'"}],"mark":{"type":"line","color":"#000","strokeWidth":2.5,"strokeDash":[4,3]},"encoding":{"x":{"field":"k","type":"nominal","title":null,"scale":{"type":"point","domain":["Tmin","Tmax"],"padding":0.27},"axis":{"orient":"bottom"}},"y":{"field":"v","type":"quantitative","title":null,"scale":{"domain":[0.857,1.909],"nice":false,"zero":false},"axis":{"orient":"right","grid":true,"values":[1.883,1.704,1.523,1.345,1.166,0.987]}}}},
{"transform":[{"filter":"datum.m!='Mean'"}],"mark":{"type":"point","filled":true,"size":145,"stroke":"#555","strokeWidth":0.8,"opacity":1},"encoding":{"x":{"field":"k","type":"nominal","title":null,"scale":{"type":"point","domain":["Tmin","Tmax"],"padding":0.27},"axis":{"orient":"bottom"}},"y":{"field":"v","type":"quantitative","title":null,"scale":{"domain":[0.857,1.909],"nice":false,"zero":false},"axis":null},"color":{"field":"m","type":"nominal","title":null,"legend":{"orient":"none","legendX":10,"legendY":627,"columns":5,"direction":"vertical"},"scale":{"domain":["CanESM2","NCAR−CESM1−CAM4","NCAR−CESM1−CAM5","GISS−E2−R","HadGEM2","HadGEM3","IPSL−CM5A","NorESM1","MIROC−SPRINTARS"]}},"shape":{"field":"m","type":"nominal","title":null,"legend":{"orient":"none","legendX":10,"legendY":627,"columns":5,"direction":"vertical"},"scale":{"domain":["CanESM2","NCAR−CESM1−CAM4","NCAR−CESM1−CAM5","GISS−E2−R","HadGEM2","HadGEM3","IPSL−CM5A","NorESM1","MIROC−SPRINTARS"]}}}},
{"transform":[{"filter":"datum.m=='Mean'"}],"mark":{"type":"circle","color":"#000","size":165,"opacity":1},"encoding":{"x":{"field":"k","type":"nominal","title":null,"scale":{"type":"point","domain":["Tmin","Tmax"],"padding":0.27},"axis":{"orient":"bottom"}},"y":{"field":"v","type":"quantitative","title":null,"scale":{"domain":[0.857,1.909],"nice":false,"zero":false},"axis":null}}}
]},
{"width":63,"height":270,"title":{"text":"DTR","orient":"bottom","fontSize":13,"offset":4},"transform":[{"filter":"datum.e=='CO2'&&datum.r=='CHI'&&datum.p=='DTR'"},{"fold":["DJF","JJA"],"as":["k","v"]}],"resolve":{"axis":{"y":"independent"}},"layer":[
{"mark":{"type":"rule","color":"#777","strokeWidth":1.2},"encoding":{"y":{"datum":0,"type":"quantitative","title":null,"scale":{"domain":[-0.257,0.391],"nice":false,"zero":false},"axis":{"values":[-0.2,-0.1,0,0.1,0.2,0.3],"format":".1f"}}}},
{"transform":[{"filter":"datum.m!='Mean'"}],"mark":{"type":"point","filled":true,"size":145,"stroke":"#555","strokeWidth":0.8,"opacity":1},"encoding":{"x":{"field":"k","type":"nominal","title":null,"scale":{"type":"point","domain":["DJF","JJA"],"padding":0.6},"axis":{"orient":"top"}},"y":{"field":"v","type":"quantitative","title":null,"scale":{"domain":[-0.257,0.391],"nice":false,"zero":false},"axis":{"orient":"right","grid":true,"values":[0.342,0.23,0.12,0.01,-0.1,-0.21]}},"color":{"field":"m","type":"nominal","title":null,"legend":{"orient":"none","legendX":10,"legendY":627,"columns":5,"direction":"vertical"},"scale":{"domain":["CanESM2","NCAR−CESM1−CAM4","NCAR−CESM1−CAM5","GISS−E2−R","HadGEM2","HadGEM3","IPSL−CM5A","NorESM1","MIROC−SPRINTARS"]}},"shape":{"field":"m","type":"nominal","title":null,"legend":{"orient":"none","legendX":10,"legendY":627,"columns":5,"direction":"vertical"},"scale":{"domain":["CanESM2","NCAR−CESM1−CAM4","NCAR−CESM1−CAM5","GISS−E2−R","HadGEM2","HadGEM3","IPSL−CM5A","NorESM1","MIROC−SPRINTARS"]}}}},
{"transform":[{"filter":"datum.m=='Mean'"}],"mark":{"type":"point","shape":"M-1,-0.22L1,-0.22L1,0.22L-1,0.22Z","filled":true,"color":"#000","size":360,"opacity":1},"encoding":{"x":{"field":"k","type":"nominal","title":null,"scale":{"type":"point","domain":["DJF","JJA"],"padding":0.6},"axis":{"orient":"top"}},"y":{"field":"v","type":"quantitative","title":null,"scale":{"domain":[-0.257,0.391],"nice":false,"zero":false},"axis":null}}}
]},
{"width":97,"height":270,"title":{"text":"JJA"},"transform":[{"filter":"datum.e=='CO2'&&datum.r=='CHI'&&datum.p=='JJA'"},{"fold":["Tmin","Tmax"],"as":["k","v"]}],"resolve":{"axis":{"y":"independent"}},"layer":[
{"transform":[{"filter":"datum.m!='Mean'"}],"mark":{"type":"line","strokeWidth":1.5},"encoding":{"x":{"field":"k","type":"nominal","title":null,"scale":{"type":"point","domain":["Tmin","Tmax"],"padding":0.27},"axis":{"orient":"bottom"}},"y":{"field":"v","type":"quantitative","title":null,"scale":{"domain":[0.75,1.67],"nice":false,"zero":false},"axis":{"values":[0.8,1,1.2,1.4,1.6],"format":".1f"}},"stroke":{"field":"m","type":"nominal","title":null,"legend":null,"scale":{"domain":["CanESM2","NCAR−CESM1−CAM4","NCAR−CESM1−CAM5","GISS−E2−R","HadGEM2","HadGEM3","IPSL−CM5A","NorESM1","MIROC−SPRINTARS","Mean"]}}}},
{"transform":[{"filter":"datum.m=='Mean'"}],"mark":{"type":"line","color":"#000","strokeWidth":2.5,"strokeDash":[4,3]},"encoding":{"x":{"field":"k","type":"nominal","title":null,"scale":{"type":"point","domain":["Tmin","Tmax"],"padding":0.27},"axis":{"orient":"bottom"}},"y":{"field":"v","type":"quantitative","title":null,"scale":{"domain":[0.75,1.67],"nice":false,"zero":false},"axis":{"orient":"right","grid":true,"values":[1.549,1.4,1.249,1.1,0.949,0.8]}}}},
{"transform":[{"filter":"datum.m!='Mean'"}],"mark":{"type":"point","filled":true,"size":145,"stroke":"#555","strokeWidth":0.8,"opacity":1},"encoding":{"x":{"field":"k","type":"nominal","title":null,"scale":{"type":"point","domain":["Tmin","Tmax"],"padding":0.27},"axis":{"orient":"bottom"}},"y":{"field":"v","type":"quantitative","title":null,"scale":{"domain":[0.75,1.67],"nice":false,"zero":false},"axis":null},"color":{"field":"m","type":"nominal","title":null,"legend":{"orient":"none","legendX":10,"legendY":627,"columns":5,"direction":"vertical"},"scale":{"domain":["CanESM2","NCAR−CESM1−CAM4","NCAR−CESM1−CAM5","GISS−E2−R","HadGEM2","HadGEM3","IPSL−CM5A","NorESM1","MIROC−SPRINTARS"]}},"shape":{"field":"m","type":"nominal","title":null,"legend":{"orient":"none","legendX":10,"legendY":627,"columns":5,"direction":"vertical"},"scale":{"domain":["CanESM2","NCAR−CESM1−CAM4","NCAR−CESM1−CAM5","GISS−E2−R","HadGEM2","HadGEM3","IPSL−CM5A","NorESM1","MIROC−SPRINTARS"]}}}},
{"transform":[{"filter":"datum.m=='Mean'"}],"mark":{"type":"circle","color":"#000","size":165,"opacity":1},"encoding":{"x":{"field":"k","type":"nominal","title":null,"scale":{"type":"point","domain":["Tmin","Tmax"],"padding":0.27},"axis":{"orient":"bottom"}},"y":{"field":"v","type":"quantitative","title":null,"scale":{"domain":[0.75,1.67],"nice":false,"zero":false},"axis":null}}}
]}
]},
{"bounds":"flush","spacing":33,"hconcat":[
{"width":95,"height":270,"title":{"text":"DJF"},"transform":[{"filter":"datum.e=='BC'&&datum.r=='CHI'&&datum.p=='DJF'"},{"fold":["Tmin","Tmax"],"as":["k","v"]}],"resolve":{"axis":{"y":"independent"}},"layer":[
{"mark":{"type":"rule","color":"#777","strokeWidth":1.2},"encoding":{"y":{"datum":0,"type":"quantitative","title":null,"scale":{"domain":[-0.94,3.66],"nice":false,"zero":false},"axis":null}}},
{"transform":[{"filter":"datum.m!='Mean'"}],"mark":{"type":"line","strokeWidth":1.5},"encoding":{"x":{"field":"k","type":"nominal","title":null,"scale":{"type":"point","domain":["Tmin","Tmax"],"padding":0.27},"axis":{"orient":"bottom"}},"y":{"field":"v","type":"quantitative","title":null,"scale":{"domain":[-0.94,3.66],"nice":false,"zero":false},"axis":{"values":[0,1,2,3],"format":"d","minExtent":30,"maxExtent":30}},"stroke":{"field":"m","type":"nominal","title":null,"legend":null,"scale":{"domain":["CanESM2","NCAR−CESM1−CAM4","NCAR−CESM1−CAM5","GISS−E2−R","HadGEM2","HadGEM3","IPSL−CM5A","NorESM1","MIROC−SPRINTARS","Mean"]}}}},
{"transform":[{"filter":"datum.m=='Mean'"}],"mark":{"type":"line","color":"#000","strokeWidth":2.5,"strokeDash":[4,3]},"encoding":{"x":{"field":"k","type":"nominal","title":null,"scale":{"type":"point","domain":["Tmin","Tmax"],"padding":0.27},"axis":{"orient":"bottom"}},"y":{"field":"v","type":"quantitative","title":null,"scale":{"domain":[-0.94,3.66],"nice":false,"zero":false},"axis":{"orient":"right","grid":true,"values":[2.94,2.18,1.41,0.64,-0.125,-0.89]}}}},
{"transform":[{"filter":"datum.m!='Mean'"}],"mark":{"type":"point","filled":true,"size":145,"stroke":"#555","strokeWidth":0.8,"opacity":1},"encoding":{"x":{"field":"k","type":"nominal","title":null,"scale":{"type":"point","domain":["Tmin","Tmax"],"padding":0.27},"axis":{"orient":"bottom"}},"y":{"field":"v","type":"quantitative","title":null,"scale":{"domain":[-0.94,3.66],"nice":false,"zero":false},"axis":null},"color":{"field":"m","type":"nominal","title":null,"legend":{"orient":"none","legendX":10,"legendY":627,"columns":5,"direction":"vertical"},"scale":{"domain":["CanESM2","NCAR−CESM1−CAM4","NCAR−CESM1−CAM5","GISS−E2−R","HadGEM2","HadGEM3","IPSL−CM5A","NorESM1","MIROC−SPRINTARS"]}},"shape":{"field":"m","type":"nominal","title":null,"legend":{"orient":"none","legendX":10,"legendY":627,"columns":5,"direction":"vertical"},"scale":{"domain":["CanESM2","NCAR−CESM1−CAM4","NCAR−CESM1−CAM5","GISS−E2−R","HadGEM2","HadGEM3","IPSL−CM5A","NorESM1","MIROC−SPRINTARS"]}}}},
{"transform":[{"filter":"datum.m=='Mean'"}],"mark":{"type":"circle","color":"#000","size":165,"opacity":1},"encoding":{"x":{"field":"k","type":"nominal","title":null,"scale":{"type":"point","domain":["Tmin","Tmax"],"padding":0.27},"axis":{"orient":"bottom"}},"y":{"field":"v","type":"quantitative","title":null,"scale":{"domain":[-0.94,3.66],"nice":false,"zero":false},"axis":null}}}
]},
{"width":63,"height":270,"title":{"text":"DTR","orient":"bottom","fontSize":13,"offset":4},"transform":[{"filter":"datum.e=='BC'&&datum.r=='CHI'&&datum.p=='DTR'"},{"fold":["DJF","JJA"],"as":["k","v"]}],"resolve":{"axis":{"y":"independent"}},"layer":[
{"mark":{"type":"rule","color":"#777","strokeWidth":1.2},"encoding":{"y":{"datum":0,"type":"quantitative","title":null,"scale":{"domain":[-2.76,0.22],"nice":false,"zero":false},"axis":{"values":[-2.5,-2,-1.5,-1,-0.5,0],"format":".1f"}}}},
{"transform":[{"filter":"datum.m!='Mean'"}],"mark":{"type":"point","filled":true,"size":145,"stroke":"#555","strokeWidth":0.8,"opacity":1},"encoding":{"x":{"field":"k","type":"nominal","title":null,"scale":{"type":"point","domain":["DJF","JJA"],"padding":0.6},"axis":{"orient":"top"}},"y":{"field":"v","type":"quantitative","title":null,"scale":{"domain":[-2.76,0.22],"nice":false,"zero":false},"axis":{"orient":"right","grid":true,"values":[-0.5,-1,-1.5,-2,-2.5]}},"color":{"field":"m","type":"nominal","title":null,"legend":{"orient":"none","legendX":10,"legendY":627,"columns":5,"direction":"vertical"},"scale":{"domain":["CanESM2","NCAR−CESM1−CAM4","NCAR−CESM1−CAM5","GISS−E2−R","HadGEM2","HadGEM3","IPSL−CM5A","NorESM1","MIROC−SPRINTARS"]}},"shape":{"field":"m","type":"nominal","title":null,"legend":{"orient":"none","legendX":10,"legendY":627,"columns":5,"direction":"vertical"},"scale":{"domain":["CanESM2","NCAR−CESM1−CAM4","NCAR−CESM1−CAM5","GISS−E2−R","HadGEM2","HadGEM3","IPSL−CM5A","NorESM1","MIROC−SPRINTARS"]}}}},
{"transform":[{"filter":"datum.m=='Mean'"}],"mark":{"type":"point","shape":"M-1,-0.22L1,-0.22L1,0.22L-1,0.22Z","filled":true,"color":"#000","size":360,"opacity":1},"encoding":{"x":{"field":"k","type":"nominal","title":null,"scale":{"type":"point","domain":["DJF","JJA"],"padding":0.6},"axis":{"orient":"top"}},"y":{"field":"v","type":"quantitative","title":null,"scale":{"domain":[-2.76,0.22],"nice":false,"zero":false},"axis":null}}}
]},
{"width":97,"height":270,"title":{"text":"JJA"},"transform":[{"filter":"datum.e=='BC'&&datum.r=='CHI'&&datum.p=='JJA'"},{"fold":["Tmin","Tmax"],"as":["k","v"]}],"resolve":{"axis":{"y":"independent"}},"layer":[
{"mark":{"type":"rule","color":"#777","strokeWidth":1.2},"encoding":{"y":{"datum":0,"type":"quantitative","title":null,"scale":{"domain":[-0.83,4.23],"nice":false,"zero":false},"axis":null}}},
{"transform":[{"filter":"datum.m!='Mean'"}],"mark":{"type":"line","strokeWidth":1.5},"encoding":{"x":{"field":"k","type":"nominal","title":null,"scale":{"type":"point","domain":["Tmin","Tmax"],"padding":0.27},"axis":{"orient":"bottom"}},"y":{"field":"v","type":"quantitative","title":null,"scale":{"domain":[-0.83,4.23],"nice":false,"zero":false},"axis":{"values":[0,1,2,3,4],"format":"d"}},"stroke":{"field":"m","type":"nominal","title":null,"legend":null,"scale":{"domain":["CanESM2","NCAR−CESM1−CAM4","NCAR−CESM1−CAM5","GISS−E2−R","HadGEM2","HadGEM3","IPSL−CM5A","NorESM1","MIROC−SPRINTARS","Mean"]}}}},
{"transform":[{"filter":"datum.m=='Mean'"}],"mark":{"type":"line","color":"#000","strokeWidth":2.5,"strokeDash":[4,3]},"encoding":{"x":{"field":"k","type":"nominal","title":null,"scale":{"type":"point","domain":["Tmin","Tmax"],"padding":0.27},"axis":{"orient":"bottom"}},"y":{"field":"v","type":"quantitative","title":null,"scale":{"domain":[-0.83,4.23],"nice":false,"zero":false},"axis":{"orient":"right","grid":true,"values":[3.59,2.75,1.91,1.04,0.2,-0.64]}}}},
{"transform":[{"filter":"datum.m!='Mean'"}],"mark":{"type":"point","filled":true,"size":145,"stroke":"#555","strokeWidth":0.8,"opacity":1},"encoding":{"x":{"field":"k","type":"nominal","title":null,"scale":{"type":"point","domain":["Tmin","Tmax"],"padding":0.27},"axis":{"orient":"bottom"}},"y":{"field":"v","type":"quantitative","title":null,"scale":{"domain":[-0.83,4.23],"nice":false,"zero":false},"axis":null},"color":{"field":"m","type":"nominal","title":null,"legend":{"orient":"none","legendX":10,"legendY":627,"columns":5,"direction":"vertical"},"scale":{"domain":["CanESM2","NCAR−CESM1−CAM4","NCAR−CESM1−CAM5","GISS−E2−R","HadGEM2","HadGEM3","IPSL−CM5A","NorESM1","MIROC−SPRINTARS"]}},"shape":{"field":"m","type":"nominal","title":null,"legend":{"orient":"none","legendX":10,"legendY":627,"columns":5,"direction":"vertical"},"scale":{"domain":["CanESM2","NCAR−CESM1−CAM4","NCAR−CESM1−CAM5","GISS−E2−R","HadGEM2","HadGEM3","IPSL−CM5A","NorESM1","MIROC−SPRINTARS"]}}}},
{"transform":[{"filter":"datum.m=='Mean'"}],"mark":{"type":"circle","color":"#000","size":165,"opacity":1},"encoding":{"x":{"field":"k","type":"nominal","title":null,"scale":{"type":"point","domain":["Tmin","Tmax"],"padding":0.27},"axis":{"orient":"bottom"}},"y":{"field":"v","type":"quantitative","title":null,"scale":{"domain":[-0.83,4.23],"nice":false,"zero":false},"axis":null}}}
]}
]},
{"bounds":"flush","spacing":33,"hconcat":[
{"width":95,"height":270,"title":{"text":"DJF"},"transform":[{"filter":"datum.e=='SO4'&&datum.r=='CHI'&&datum.p=='DJF'"},{"fold":["Tmin","Tmax"],"as":["k","v"]}],"resolve":{"axis":{"y":"independent"}},"layer":[
{"transform":[{"filter":"datum.m!='Mean'"}],"mark":{"type":"line","strokeWidth":1.5},"encoding":{"x":{"field":"k","type":"nominal","title":null,"scale":{"type":"point","domain":["Tmin","Tmax"],"padding":0.27},"axis":{"orient":"bottom"}},"y":{"field":"v","type":"quantitative","title":null,"scale":{"domain":[1.27,2.55],"nice":false,"zero":false},"axis":{"values":[1.4,1.6,1.8,2,2.2,2.4],"format":".1f","minExtent":40,"maxExtent":40}},"stroke":{"field":"m","type":"nominal","title":null,"legend":null,"scale":{"domain":["CanESM2","NCAR−CESM1−CAM4","NCAR−CESM1−CAM5","GISS−E2−R","HadGEM2","HadGEM3","IPSL−CM5A","NorESM1","MIROC−SPRINTARS","Mean"]}}}},
{"transform":[{"filter":"datum.m=='Mean'"}],"mark":{"type":"line","color":"#000","strokeWidth":2.5,"strokeDash":[4,3]},"encoding":{"x":{"field":"k","type":"nominal","title":null,"scale":{"type":"point","domain":["Tmin","Tmax"],"padding":0.27},"axis":{"orient":"bottom"}},"y":{"field":"v","type":"quantitative","title":null,"scale":{"domain":[1.27,2.55],"nice":false,"zero":false},"axis":{"orient":"right","grid":true,"values":[2.395,2.182,1.972,1.763,1.553,1.345]}}}},
{"transform":[{"filter":"datum.m!='Mean'"}],"mark":{"type":"point","filled":true,"size":145,"stroke":"#555","strokeWidth":0.8,"opacity":1},"encoding":{"x":{"field":"k","type":"nominal","title":null,"scale":{"type":"point","domain":["Tmin","Tmax"],"padding":0.27},"axis":{"orient":"bottom"}},"y":{"field":"v","type":"quantitative","title":null,"scale":{"domain":[1.27,2.55],"nice":false,"zero":false},"axis":null},"color":{"field":"m","type":"nominal","title":null,"legend":{"orient":"none","legendX":10,"legendY":627,"columns":5,"direction":"vertical"},"scale":{"domain":["CanESM2","NCAR−CESM1−CAM4","NCAR−CESM1−CAM5","GISS−E2−R","HadGEM2","HadGEM3","IPSL−CM5A","NorESM1","MIROC−SPRINTARS"]}},"shape":{"field":"m","type":"nominal","title":null,"legend":{"orient":"none","legendX":10,"legendY":627,"columns":5,"direction":"vertical"},"scale":{"domain":["CanESM2","NCAR−CESM1−CAM4","NCAR−CESM1−CAM5","GISS−E2−R","HadGEM2","HadGEM3","IPSL−CM5A","NorESM1","MIROC−SPRINTARS"]}}}},
{"transform":[{"filter":"datum.m=='Mean'"}],"mark":{"type":"circle","color":"#000","size":165,"opacity":1},"encoding":{"x":{"field":"k","type":"nominal","title":null,"scale":{"type":"point","domain":["Tmin","Tmax"],"padding":0.27},"axis":{"orient":"bottom"}},"y":{"field":"v","type":"quantitative","title":null,"scale":{"domain":[1.27,2.55],"nice":false,"zero":false},"axis":null}}}
]},
{"width":63,"height":270,"title":{"text":"DTR","orient":"bottom","fontSize":13,"offset":4},"transform":[{"filter":"datum.e=='SO4'&&datum.r=='CHI'&&datum.p=='DTR'"},{"fold":["DJF","JJA"],"as":["k","v"]}],"resolve":{"axis":{"y":"independent"}},"layer":[
{"mark":{"type":"rule","color":"#777","strokeWidth":1.2},"encoding":{"y":{"datum":0,"type":"quantitative","title":null,"scale":{"domain":[-0.274,0.284],"nice":false,"zero":false},"axis":{"values":[-0.2,-0.1,0,0.1,0.2],"format":".1f"}}}},
{"transform":[{"filter":"datum.m!='Mean'"}],"mark":{"type":"point","filled":true,"size":145,"stroke":"#555","strokeWidth":0.8,"opacity":1},"encoding":{"x":{"field":"k","type":"nominal","title":null,"scale":{"type":"point","domain":["DJF","JJA"],"padding":0.6},"axis":{"orient":"top"}},"y":{"field":"v","type":"quantitative","title":null,"scale":{"domain":[-0.274,0.284],"nice":false,"zero":false},"axis":{"orient":"right","grid":true,"values":[0.261,0.17,0.081,-0.009,-0.099,-0.19]}},"color":{"field":"m","type":"nominal","title":null,"legend":{"orient":"none","legendX":10,"legendY":627,"columns":5,"direction":"vertical"},"scale":{"domain":["CanESM2","NCAR−CESM1−CAM4","NCAR−CESM1−CAM5","GISS−E2−R","HadGEM2","HadGEM3","IPSL−CM5A","NorESM1","MIROC−SPRINTARS"]}},"shape":{"field":"m","type":"nominal","title":null,"legend":{"orient":"none","legendX":10,"legendY":627,"columns":5,"direction":"vertical"},"scale":{"domain":["CanESM2","NCAR−CESM1−CAM4","NCAR−CESM1−CAM5","GISS−E2−R","HadGEM2","HadGEM3","IPSL−CM5A","NorESM1","MIROC−SPRINTARS"]}}}},
{"transform":[{"filter":"datum.m=='Mean'"}],"mark":{"type":"point","shape":"M-1,-0.22L1,-0.22L1,0.22L-1,0.22Z","filled":true,"color":"#000","size":360,"opacity":1},"encoding":{"x":{"field":"k","type":"nominal","title":null,"scale":{"type":"point","domain":["DJF","JJA"],"padding":0.6},"axis":{"orient":"top"}},"y":{"field":"v","type":"quantitative","title":null,"scale":{"domain":[-0.274,0.284],"nice":false,"zero":false},"axis":null}}}
]},
{"width":97,"height":270,"title":{"text":"JJA"},"transform":[{"filter":"datum.e=='SO4'&&datum.r=='CHI'&&datum.p=='JJA'"},{"fold":["Tmin","Tmax"],"as":["k","v"]}],"resolve":{"axis":{"y":"independent"}},"layer":[
{"transform":[{"filter":"datum.m!='Mean'"}],"mark":{"type":"line","strokeWidth":1.5},"encoding":{"x":{"field":"k","type":"nominal","title":null,"scale":{"type":"point","domain":["Tmin","Tmax"],"padding":0.27},"axis":{"orient":"bottom"}},"y":{"field":"v","type":"quantitative","title":null,"scale":{"domain":[1.01,2.54],"nice":false,"zero":false},"axis":{"values":[1.2,1.4,1.6,1.8,2,2.2,2.4],"format":".1f"}},"stroke":{"field":"m","type":"nominal","title":null,"legend":null,"scale":{"domain":["CanESM2","NCAR−CESM1−CAM4","NCAR−CESM1−CAM5","GISS−E2−R","HadGEM2","HadGEM3","IPSL−CM5A","NorESM1","MIROC−SPRINTARS","Mean"]}}}},
{"transform":[{"filter":"datum.m=='Mean'"}],"mark":{"type":"line","color":"#000","strokeWidth":2.5,"strokeDash":[4,3]},"encoding":{"x":{"field":"k","type":"nominal","title":null,"scale":{"type":"point","domain":["Tmin","Tmax"],"padding":0.27},"axis":{"orient":"bottom"}},"y":{"field":"v","type":"quantitative","title":null,"scale":{"domain":[1.01,2.54],"nice":false,"zero":false},"axis":{"orient":"right","grid":true,"values":[2.507,2.259,2,1.754,1.502,1.251]}}}},
{"transform":[{"filter":"datum.m!='Mean'"}],"mark":{"type":"point","filled":true,"size":145,"stroke":"#555","strokeWidth":0.8,"opacity":1},"encoding":{"x":{"field":"k","type":"nominal","title":null,"scale":{"type":"point","domain":["Tmin","Tmax"],"padding":0.27},"axis":{"orient":"bottom"}},"y":{"field":"v","type":"quantitative","title":null,"scale":{"domain":[1.01,2.54],"nice":false,"zero":false},"axis":null},"color":{"field":"m","type":"nominal","title":null,"legend":{"orient":"none","legendX":10,"legendY":627,"columns":5,"direction":"vertical"},"scale":{"domain":["CanESM2","NCAR−CESM1−CAM4","NCAR−CESM1−CAM5","GISS−E2−R","HadGEM2","HadGEM3","IPSL−CM5A","NorESM1","MIROC−SPRINTARS"]}},"shape":{"field":"m","type":"nominal","title":null,"legend":{"orient":"none","legendX":10,"legendY":627,"columns":5,"direction":"vertical"},"scale":{"domain":["CanESM2","NCAR−CESM1−CAM4","NCAR−CESM1−CAM5","GISS−E2−R","HadGEM2","HadGEM3","IPSL−CM5A","NorESM1","MIROC−SPRINTARS"]}}}},
{"transform":[{"filter":"datum.m=='Mean'"}],"mark":{"type":"circle","color":"#000","size":165,"opacity":1},"encoding":{"x":{"field":"k","type":"nominal","title":null,"scale":{"type":"point","domain":["Tmin","Tmax"],"padding":0.27},"axis":{"orient":"bottom"}},"y":{"field":"v","type":"quantitative","title":null,"scale":{"domain":[1.01,2.54],"nice":false,"zero":false},"axis":null}}}
]}
]}
]}
],
"config":{
"font":"Lato",
"view":{"stroke":"#8c8c8c","strokeWidth":1.5},
"range":{"category":["#6b3206","#9a4408","#b3540c","#cf6d12","#e3892a","#f4aa5c","#f8c68e","#fbdfbb","#fdf3e7"],"symbol":["circle","square","diamond","triangle-up","triangle-down","triangle-right","triangle-left","M-1,-0.5L1,-0.5L1,0.5L-1,0.5Z","cross"]},
"axis":{"labelFont":"Lato","labelColor":"#222","grid":false,"ticks":false,"domain":false,"labelAngle":0},
"axisLeft":{"labelFontSize":15,"labelPadding":4},
"axisRight":{"grid":true,"gridDash":[1.5,2.5],"gridColor":"#777","gridWidth":0.8,"labels":false,"minExtent":0,"maxExtent":0},
"axisTop":{"labelFontSize":12,"labelPadding":3},
"axisBottom":{"labelFontSize":13,"labelPadding":4},
"title":{"font":"Lato","fontSize":11,"fontWeight":"normal","color":"#222","offset":4},
"legend":{"labelFont":"Lato","labelFontSize":13,"labelColor":"#222","symbolSize":220,"symbolStrokeColor":"#555","symbolStrokeWidth":0.8,"symbolOpacity":1,"rowPadding":7,"columnPadding":70,"labelOffset":8,"padding":0}
}
}
